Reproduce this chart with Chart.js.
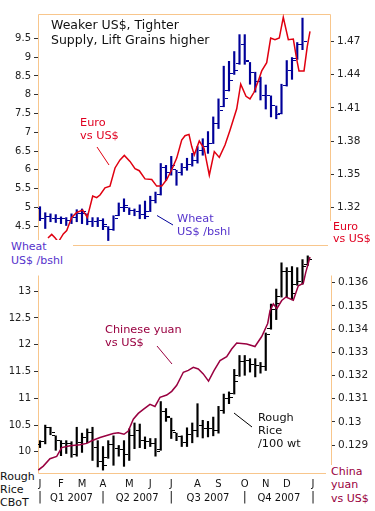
<!DOCTYPE html>
<html>
<head>
<meta charset="utf-8">
<script src="https://cdn.jsdelivr.net/npm/chart.js@4.4.1/dist/chart.umd.min.js"></script>
<style>
  body { margin: 0; background: #fff; width: 375px; height: 511px; overflow: hidden; position: relative;
         font-family: "DejaVu Sans", Verdana, sans-serif; }
  canvas { position: absolute; left: 0; }
  #cTop { top: 0; }
  #cBot { top: 250px; }
  .lbl { position: absolute; white-space: nowrap; font-size: 11.3px; line-height: 13px; }
  .bg { background: #fff; }
  svg { position: absolute; left: 0; top: 0; }
</style>
</head>
<body>
<canvas id="cTop" width="375" height="250" style="width:375px;height:250px"></canvas>
<canvas id="cBot" width="375" height="261" style="width:375px;height:261px"></canvas>

<svg width="375" height="511">
  <line x1="97" y1="147" x2="109" y2="165" stroke="#e00010" stroke-width="1"/>
  <line x1="157" y1="215.5" x2="173" y2="225" stroke="#000099" stroke-width="1"/>
  <line x1="157" y1="346" x2="172" y2="364" stroke="#990040" stroke-width="1"/>
  <line x1="234" y1="413" x2="252" y2="427" stroke="#000" stroke-width="1"/>
</svg>

<div class="lbl" style="left:51px;top:17px;font-size:12.5px;line-height:15px;color:#111">Weaker US$, Tighter<br>Supply, Lift Grains higher</div>
<div class="lbl" style="left:80px;top:116px;color:#e00020">Euro<br>vs US$</div>
<div class="lbl" style="left:177px;top:212px;color:#5533cc">Wheat<br>US$ /bshl</div>
<div class="lbl bg" style="left:0;top:240px;padding:0 10px 0 11px;font-size:11px;line-height:14px;color:#5533cc">Wheat<br>US$ /bshl</div>
<div class="lbl bg" style="left:328px;top:221px;padding:0 10px 2px 5px;font-size:11px;line-height:12px;color:#e00020">Euro<br>vs US$</div>
<div class="lbl" style="left:105px;top:323px;color:#990040">Chinese yuan<br>vs US$</div>
<div class="lbl" style="left:258px;top:411px;color:#111">Rough<br>Rice<br>/100 wt</div>
<div class="lbl bg" style="left:0;top:470px;font-size:11px;color:#111">Rough<br>Rice<br>CBoT</div>
<div class="lbl bg" style="left:326px;top:465px;padding:0 10px 0 5px;font-size:11px;line-height:13.3px;color:#990040">China<br>yuan<br>vs US$</div>

<script>
// weekly bars, x = week number of 2007
const monthWeeks = [0, 4, 8, 12, 17, 21, 25, 30, 34, 39, 43, 47, 52];
const monthLabels = ["J", "F", "M", "A", "M", "J", "J", "A", "S", "O", "N", "D", "J"];
const quarterWeeks = [0, 12, 25, 39, 52];
const quarterLabels = ["Q1 2007", "Q2 2007", "Q3 2007", "Q4 2007"];

// wheat, CBoT, US$ per bushel
const wheatHigh = [5.02,4.86,4.83,4.81,4.75,4.73,4.83,4.94,4.96,4.83,4.73,4.73,4.70,4.49,4.78,5.12,5.23,4.99,4.96,5.07,5.17,5.30,5.41,6.17,6.12,6.36,5.99,6.17,6.31,6.44,6.62,6.83,7.02,7.41,7.89,8.76,8.89,9.15,9.60,9.60,8.86,8.60,8.47,8.26,7.97,7.70,8.28,8.91,8.99,9.39,10.04];
const wheatLow = [4.65,4.44,4.62,4.60,4.57,4.52,4.57,4.62,4.57,4.54,4.49,4.49,4.41,4.12,4.39,4.78,4.89,4.81,4.78,4.70,4.70,4.89,5.12,5.33,5.72,5.86,5.59,5.86,5.99,6.10,6.18,6.39,6.44,6.70,7.10,7.68,8.10,8.54,8.81,8.81,8.28,8.07,7.86,7.62,7.41,7.36,7.49,8.23,8.41,8.94,9.20];
const wheatOpen = [4.95,4.70,4.75,4.70,4.68,4.68,4.65,4.73,4.83,4.83,4.60,4.62,4.65,4.49,4.39,4.78,4.99,4.99,4.91,4.88,4.81,4.89,5.17,5.33,6.04,5.91,5.99,5.91,6.04,6.12,6.23,6.49,6.62,6.70,7.23,7.68,8.10,8.54,8.81,9.33,8.86,8.57,8.33,7.97,7.97,7.70,7.49,8.23,8.62,8.94,9.33];
const wheatClose = [4.70,4.75,4.70,4.68,4.68,4.65,4.73,4.83,4.89,4.60,4.62,4.65,4.52,4.39,4.68,4.99,5.04,4.91,4.88,4.81,4.75,5.17,5.33,6.04,5.91,6.10,5.91,6.04,6.12,6.23,6.49,6.62,6.70,7.23,7.57,7.89,8.36,8.62,9.33,8.89,8.57,8.33,7.97,7.97,7.70,7.47,8.23,8.62,8.89,9.33,9.41];

// euro vs US$
const euroWeek = [1.52,2.23,2.86,3.49,4.44,5.09,6.04,6.99,8.13,9.01,10.04,10.8,11.43,12.38,13.33,14.29,15.24,16.06,17.14,18.1,18.91,20,21.28,22.23,23.18,24.13,25.09,26.04,26.99,27.62,28.38,28.9,29.39,30.34,31.24,32.25,33.2,34.15,35.24,36.19,37.47,38.23,39.24,40,40.76,41.58,42.23,43.18,43.94,44.76,45.58,46.34,47.3,48.25,48.9,49.33,50.29,50.91,51.43];
const euroRate = [1.2924,1.2957,1.2926,1.2888,1.2962,1.2992,1.3111,1.3155,1.3176,1.3111,1.3304,1.3289,1.3313,1.3378,1.3393,1.3557,1.3630,1.3670,1.3616,1.3550,1.3532,1.3458,1.3452,1.3393,1.3393,1.3452,1.3541,1.3646,1.3809,1.3848,1.3860,1.3750,1.3675,1.3800,1.3735,1.3491,1.3705,1.3652,1.3764,1.3898,1.4091,1.4314,1.4204,1.4180,1.4240,1.4343,1.4433,1.4507,1.4730,1.4715,1.4730,1.4917,1.4715,1.4721,1.4537,1.4433,1.4433,1.4655,1.4789];

// rough rice, CBoT, US$ per 100 wt
const riceHigh = [10.21,10.50,10.46,10.30,10.21,10.21,10.19,10.46,10.35,10.43,10.46,10.21,10.10,10.21,10.30,10.12,10.21,10.43,10.54,10.52,10.28,10.25,10.25,10.94,10.81,10.63,10.35,10.30,10.45,10.54,10.90,10.59,10.57,10.65,10.85,11.08,11.12,11.54,11.80,11.80,11.74,11.74,11.67,12.22,12.76,13.04,13.53,13.44,13.46,13.44,13.59,13.66];
const riceLow = [10.08,10.15,10.32,10.03,9.93,9.97,9.90,9.92,9.99,10.17,9.84,9.72,9.66,9.88,9.75,9.92,9.73,9.84,10.06,10.08,10.06,10.10,9.92,10.03,10.57,10.25,10.21,10.10,10.10,10.17,10.28,10.26,10.28,10.30,10.35,10.72,10.90,11.08,11.41,11.43,11.49,11.40,11.47,11.52,12.29,12.47,12.89,12.89,12.84,13.11,13.13,13.48];
const riceOpen = [10.12,10.19,10.45,10.30,10.21,10.14,10.15,9.95,10.17,10.26,10.35,10.08,9.81,9.88,10.12,10.06,10.03,9.94,10.30,10.39,10.21,10.19,10.15,10.03,10.74,10.63,10.35,10.28,10.17,10.32,10.39,10.48,10.43,10.43,10.39,10.76,10.99,11.08,11.41,11.67,11.70,11.63,11.60,11.58,12.29,12.65,12.89,13.35,13.35,13.11,13.17,13.48];
const riceClose = [10.19,10.45,10.35,10.21,10.14,10.15,9.95,10.17,10.26,10.35,10.08,9.81,9.73,10.12,10.06,10.03,9.94,10.30,10.39,10.21,10.19,10.15,9.99,10.74,10.65,10.39,10.28,10.17,10.32,10.39,10.48,10.43,10.43,10.39,10.76,10.99,11.01,11.30,11.67,11.70,11.63,11.60,11.58,12.18,12.65,12.76,13.35,13.35,12.95,13.17,13.46,13.59];

// chinese yuan vs US$
const yuanWeek = [-0.32,0.63,1.90,3.18,4.13,5.71,7.62,8.90,9.85,11.43,13.01,13.96,14.91,16.0,16.82,17.77,18.72,19.68,20.95,21.9,22.86,24.13,25.09,26.04,27.3,28.25,29.2,30.15,31.1,32.1,33.14,34.29,35.56,36.51,37.47,39.37,40.95,42.23,43.37,43.81,44.44,45.14,46.04,46.86,48.25,49.2,50.15,50.61,51.43];
const yuanRate = [0.12793,0.12810,0.12842,0.12852,0.12890,0.12898,0.12902,0.12908,0.12919,0.12933,0.12944,0.12950,0.12954,0.12947,0.12961,0.13012,0.13037,0.13054,0.13076,0.13067,0.13106,0.13116,0.13132,0.13158,0.13214,0.13222,0.13235,0.13228,0.13207,0.13176,0.13221,0.13264,0.13281,0.13314,0.13340,0.13336,0.13325,0.13368,0.13424,0.13479,0.13508,0.13489,0.13523,0.13538,0.13524,0.13586,0.13597,0.13643,0.13710];

// axis tick values
const wheatTicks = [4.5, 5, 5.5, 6, 6.5, 7, 7.5, 8, 8.5, 9, 9.5];
const euroTicks = [1.32, 1.35, 1.38, 1.41, 1.44, 1.47];
const riceTicks = [10, 10.5, 11, 11.5, 12, 12.5, 13];
const yuanTicks = [0.129, 0.13, 0.131, 0.132, 0.133, 0.134, 0.135, 0.136];

const FRAME = "#f8c68c";
const FONT = '"DejaVu Sans", Verdana, sans-serif';
Chart.defaults.font.family = FONT;

// little open / close ticks for the bars
function tickMark(color, side) {
  const c = document.createElement("canvas");
  c.width = 8; c.height = 2;
  const g = c.getContext("2d");
  g.fillStyle = color;
  g.fillRect(side === "left" ? 0 : 5, 0, 3, 1);
  return c;
}

function ohlc(high, low, open, close, color, axis) {
  return [
    { type: "bar", data: high.map((h, i) => ({ x: i, y: [low[i], h] })),
      backgroundColor: color, barThickness: 1.5, grouped: false, yAxisID: axis },
    { type: "line", data: open.map((v, i) => ({ x: i, y: v })), showLine: false,
      pointStyle: tickMark(color, "left"), pointRadius: 3, yAxisID: axis },
    { type: "line", data: close.map((v, i) => ({ x: i, y: v })), showLine: false,
      pointStyle: tickMark(color, "right"), pointRadius: 3, yAxisID: axis }
  ];
}

function lineSet(xs, ys, color, axis) {
  return { type: "line", data: xs.map((x, i) => ({ x: x, y: ys[i] })), borderColor: color,
           borderWidth: 1.5, pointRadius: 0, tension: 0, fill: false, yAxisID: axis };
}

function yAxis(pos, min, max, ticks, width, size) {
  return {
    type: "linear", position: pos, min: min, max: max,
    grid: { drawOnChartArea: false, drawTicks: true, tickLength: 4, tickColor: "#333" },
    border: { display: false },
    ticks: { autoSkip: false, padding: 3, color: "#222", font: { size: size }, callback: v => String(v) },
    afterBuildTicks: s => { s.ticks = ticks.map(v => ({ value: v })); },
    afterFit: s => { s.width = width; s.paddingTop = 0; s.paddingBottom = 0; }
  };
}

// orange frame round the plot area, crisp tick images
const frame = {
  id: "frame",
  beforeDatasetsDraw(chart, args, opts) {
    const a = chart.chartArea, ctx = chart.ctx;
    const l = Math.round(a.left) + 0.5, r = Math.round(a.right) + 0.5;
    const t = Math.round(a.top) + 0.5, b = Math.round(a.bottom) + 0.5;
    const top = t + (opts.inset || 0);
    ctx.save();
    ctx.strokeStyle = FRAME; ctx.lineWidth = 1;
    ctx.beginPath();
    if (opts.edges.includes("top")) { ctx.moveTo(l, t); ctx.lineTo(r, t); }
    if (opts.edges.includes("left")) { ctx.moveTo(l, top); ctx.lineTo(l, b); }
    if (opts.edges.includes("right")) { ctx.moveTo(r, top); ctx.lineTo(r, b); }
    if (opts.edges.includes("bottom")) { ctx.moveTo(l, b); ctx.lineTo(r, b); }
    ctx.stroke();
    ctx.restore();
    ctx.imageSmoothingEnabled = false;
  }
};

// quarter row under the month letters
const quarters = {
  id: "quarters",
  afterDraw(chart) {
    const x = chart.scales.x, ctx = chart.ctx;
    const y = chart.chartArea.bottom + 25;
    ctx.save();
    ctx.fillStyle = "#111";
    ctx.textAlign = "center";
    ctx.textBaseline = "middle";
    ctx.font = "12px " + FONT;
    quarterWeeks.forEach(w => ctx.fillText("|", x.getPixelForValue(w), y));
    ctx.font = "10px " + FONT;
    quarterLabels.forEach((q, i) => {
      const mid = (x.getPixelForValue(quarterWeeks[i]) + x.getPixelForValue(quarterWeeks[i + 1])) / 2;
      ctx.fillText(q, mid, y);
    });
    ctx.restore();
  }
};

const common = {
  responsive: false,
  animation: false,
  plugins: { legend: { display: false }, tooltip: { enabled: false } }
};

new Chart(document.getElementById("cTop"), {
  type: "bar",
  data: {
    datasets: [
      lineSet(euroWeek, euroRate, "#e00010", "yR"),
      ...ohlc(wheatHigh, wheatLow, wheatOpen, wheatClose, "#000099", "yL")
    ]
  },
  options: {
    ...common,
    layout: { padding: { top: 14, bottom: 2, left: 0, right: 0 } },
    plugins: { ...common.plugins, frame: { edges: ["top", "left", "right", "bottom"] } },
    scales: {
      x: { type: "linear", min: -0.381, max: 55.238, offset: false, display: false },
      yL: yAxis("left", 4.001, 10.149, wheatTicks, 38, 10),
      yR: yAxis("right", 1.28613, 1.49469, euroTicks, 45, 10.5)
    }
  },
  plugins: [frame]
});

new Chart(document.getElementById("cBot"), {
  type: "bar",
  data: {
    datasets: [
      lineSet(yuanWeek, yuanRate, "#990040", "yR"),
      ...ohlc(riceHigh, riceLow, riceOpen, riceClose, "#000", "yL")
    ]
  },
  options: {
    ...common,
    layout: { padding: { top: 0, bottom: 0, left: 0, right: 0 } },
    plugins: { ...common.plugins, frame: { edges: ["left", "right", "bottom"], inset: 20 } },
    scales: {
      x: {
        type: "linear", min: -0.381, max: 55.4286, offset: false,
        grid: { display: false, drawTicks: false }, border: { display: false },
        ticks: { autoSkip: false, maxRotation: 0, padding: 5, color: "#111", font: { size: 10 },
                 callback: v => monthLabels[monthWeeks.indexOf(v)] },
        afterBuildTicks: s => { s.ticks = monthWeeks.map(v => ({ value: v })); },
        afterFit: s => { s.height = 38; s.paddingLeft = 0; s.paddingRight = 0; }
      },
      yL: yAxis("left", 9.606, 13.676, riceTicks, 38, 10),
      yR: yAxis("right", 0.127804, 0.137189, yuanTicks, 44, 10.5)
    }
  },
  plugins: [frame, quarters]
});
</script>
</body>
</html>
